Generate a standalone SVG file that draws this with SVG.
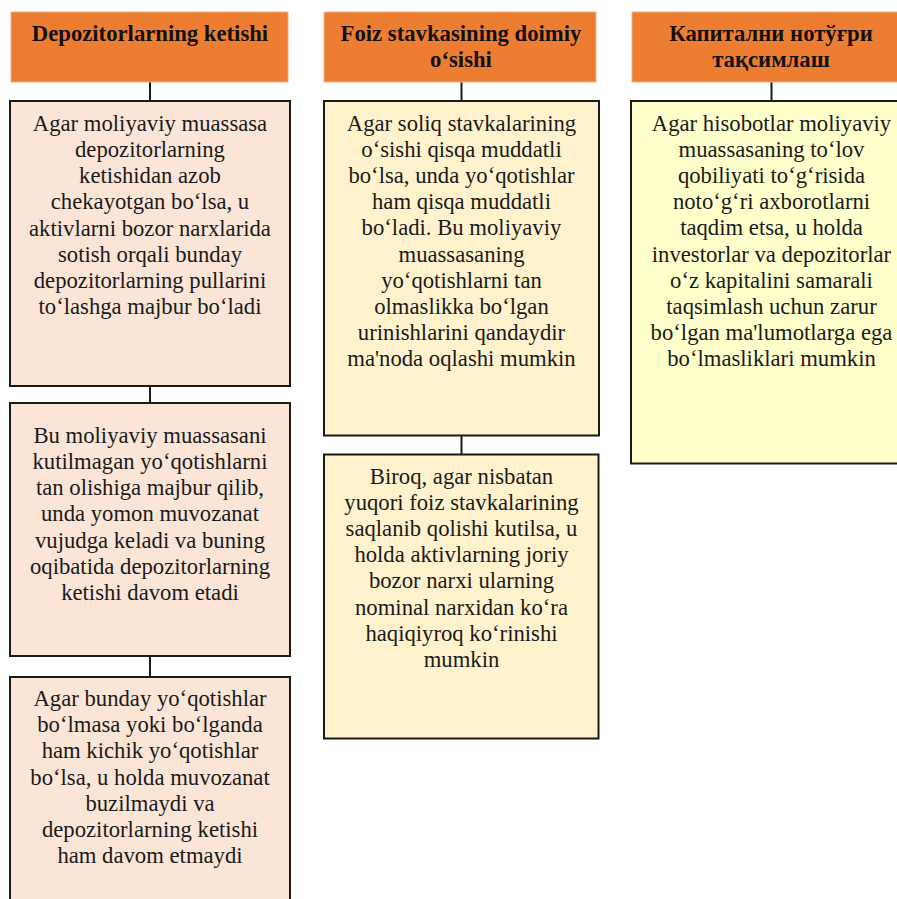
<svg xmlns="http://www.w3.org/2000/svg" width="897" height="899" viewBox="0 0 897 899">
<style>
.hdr{fill:#ED7D31;stroke:#F4B183;stroke-width:1}
.box{stroke:#1a1a1a;stroke-width:2}
.c1{fill:#FBE5D6}
.c2{fill:#FFF2CC}
.c3{fill:#FFFFCC}
.ht{font-family:"Liberation Serif","Times New Roman",serif;font-size:22.7px;font-weight:bold;fill:#111;text-anchor:middle}
.bt{font-family:"Liberation Serif","Times New Roman",serif;font-size:22.7px;fill:#1a1a1a;text-anchor:middle}
.con{stroke:#1a1a1a;stroke-width:2;fill:none}
</style>
<rect width="897" height="899" fill="#ffffff"/>
<g id="connectors">
<line class="con" x1="150" y1="82" x2="150" y2="101"/>
<line class="con" x1="150" y1="386" x2="150" y2="403"/>
<line class="con" x1="150" y1="656" x2="150" y2="677"/>
<line class="con" x1="461.5" y1="82" x2="461.5" y2="101"/>
<line class="con" x1="461.5" y1="435.5" x2="461.5" y2="454.5"/>
<line class="con" x1="771.5" y1="82" x2="771.5" y2="101"/>
</g>
<g id="h1">
<rect class="hdr" x="11" y="12" width="277" height="70"/>
<text class="ht" x="150" y="41">Depozitorlarning ketishi</text>
</g>
<g id="h2">
<rect class="hdr" x="324" y="12" width="272" height="70"/>
<text class="ht" x="461" y="41">Foiz stavkasining doimiy</text>
<text class="ht" x="461" y="67">o‘sishi</text>
</g>
<g id="h3">
<rect class="hdr" x="632" y="12" width="280" height="70"/>
<text class="ht" x="771" y="41">Капитални нотўғри</text>
<text class="ht" x="771" y="67">тақсимлаш</text>
</g>
<g id="b1">
<rect class="box c1" x="10" y="101" width="280" height="285"/>
<text class="bt" x="150" y="130.7">Agar moliyaviy muassasa</text>
<text class="bt" x="150" y="156.9">depozitorlarning</text>
<text class="bt" x="150" y="183.1">ketishidan azob</text>
<text class="bt" x="150" y="209.3">chekayotgan bo‘lsa, u</text>
<text class="bt" x="150" y="235.5">aktivlarni bozor narxlarida</text>
<text class="bt" x="150" y="261.7">sotish orqali bunday</text>
<text class="bt" x="150" y="287.9">depozitorlarning pullarini</text>
<text class="bt" x="150" y="314.1">to‘lashga majbur bo‘ladi</text>
</g>
<g id="b2">
<rect class="box c1" x="10" y="403" width="280" height="253"/>
<text class="bt" x="150" y="442.7">Bu moliyaviy muassasani</text>
<text class="bt" x="150" y="468.9">kutilmagan yo‘qotishlarni</text>
<text class="bt" x="150" y="495.1">tan olishiga majbur qilib,</text>
<text class="bt" x="150" y="521.3">unda yomon muvozanat</text>
<text class="bt" x="150" y="547.5">vujudga keladi va buning</text>
<text class="bt" x="150" y="573.7">oqibatida depozitorlarning</text>
<text class="bt" x="150" y="599.9">ketishi davom etadi</text>
</g>
<g id="b3">
<rect class="box c1" x="10" y="677" width="280" height="240"/>
<text class="bt" x="150" y="706">Agar bunday yo‘qotishlar</text>
<text class="bt" x="150" y="732.2">bo‘lmasa yoki bo‘lganda</text>
<text class="bt" x="150" y="758.4">ham kichik yo‘qotishlar</text>
<text class="bt" x="150" y="784.6">bo‘lsa, u holda muvozanat</text>
<text class="bt" x="150" y="810.8">buzilmaydi va</text>
<text class="bt" x="150" y="837">depozitorlarning ketishi</text>
<text class="bt" x="150" y="863.2">ham davom etmaydi</text>
</g>
<g id="b4">
<rect class="box c2" x="324" y="101" width="275" height="334.5"/>
<text class="bt" x="461.5" y="130.5">Agar soliq stavkalarining</text>
<text class="bt" x="461.5" y="156.7">o‘sishi qisqa muddatli</text>
<text class="bt" x="461.5" y="182.9">bo‘lsa, unda yo‘qotishlar</text>
<text class="bt" x="461.5" y="209.1">ham qisqa muddatli</text>
<text class="bt" x="461.5" y="235.3">bo‘ladi. Bu moliyaviy</text>
<text class="bt" x="461.5" y="261.5">muassasaning</text>
<text class="bt" x="461.5" y="287.7">yo‘qotishlarni tan</text>
<text class="bt" x="461.5" y="313.9">olmaslikka bo‘lgan</text>
<text class="bt" x="461.5" y="340.1">urinishlarini qandaydir</text>
<text class="bt" x="461.5" y="366.3">ma'noda oqlashi mumkin</text>
</g>
<g id="b5">
<rect class="box c2" x="324" y="454.5" width="274.5" height="284"/>
<text class="bt" x="461.5" y="483.5">Biroq, agar nisbatan</text>
<text class="bt" x="461.5" y="509.7">yuqori foiz stavkalarining</text>
<text class="bt" x="461.5" y="535.9">saqlanib qolishi kutilsa, u</text>
<text class="bt" x="461.5" y="562.1">holda aktivlarning joriy</text>
<text class="bt" x="461.5" y="588.3">bozor narxi ularning</text>
<text class="bt" x="461.5" y="614.5">nominal narxidan ko‘ra</text>
<text class="bt" x="461.5" y="640.7">haqiqiyroq ko‘rinishi</text>
<text class="bt" x="461.5" y="666.9">mumkin</text>
</g>
<g id="b6">
<rect class="box c3" x="631" y="101" width="290" height="362.5"/>
<text class="bt" x="771.5" y="130.5">Agar hisobotlar moliyaviy</text>
<text class="bt" x="771.5" y="156.7">muassasaning to‘lov</text>
<text class="bt" x="771.5" y="182.9">qobiliyati to‘g‘risida</text>
<text class="bt" x="771.5" y="209.1">noto‘g‘ri axborotlarni</text>
<text class="bt" x="771.5" y="235.3">taqdim etsa, u holda</text>
<text class="bt" x="771.5" y="261.5">investorlar va depozitorlar</text>
<text class="bt" x="771.5" y="287.7">o‘z kapitalini samarali</text>
<text class="bt" x="771.5" y="313.9">taqsimlash uchun zarur</text>
<text class="bt" x="771.5" y="340.1">bo‘lgan ma'lumotlarga ega</text>
<text class="bt" x="771.5" y="366.3">bo‘lmasliklari mumkin</text>
</g>
</svg>
